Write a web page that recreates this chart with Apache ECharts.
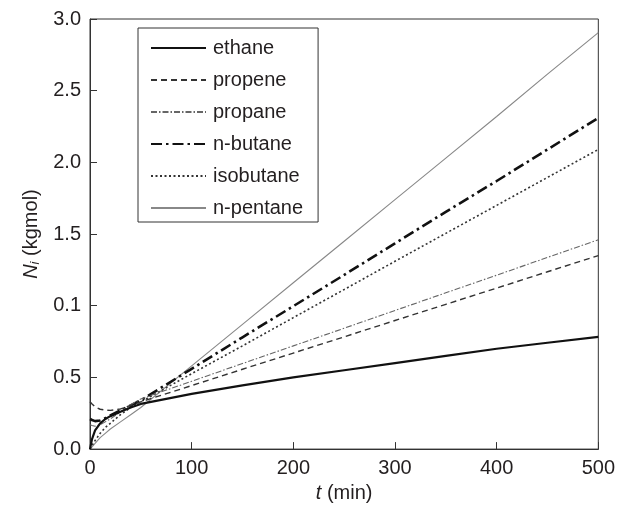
<!DOCTYPE html>
<html>
<head>
<meta charset="utf-8">
<script src="https://cdn.jsdelivr.net/npm/echarts@6/dist/echarts.min.js"></script>
<style>
html,body{margin:0;padding:0;background:#fff;}
#chart{width:618px;height:508px;}
</style>
</head>
<body>
<div id="chart"></div>
<script>
// Time points (min)
var times = [0, 2, 5, 10, 15, 20, 30, 40, 50, 100, 150, 200, 250, 300, 350, 400, 450, 500];
// Series values N_i (kgmol)
var ethane    = [0, 0.07, 0.13, 0.18, 0.21, 0.23, 0.26, 0.29, 0.315, 0.385, 0.445, 0.50, 0.55, 0.60, 0.65, 0.70, 0.742, 0.783];
var propene   = [0.33, 0.315, 0.295, 0.278, 0.272, 0.27, 0.28, 0.305, 0.33, 0.443, 0.557, 0.67, 0.783, 0.897, 1.01, 1.123, 1.237, 1.35];
var propane   = [0.17, 0.165, 0.16, 0.17, 0.19, 0.21, 0.26, 0.31, 0.35, 0.473, 0.597, 0.72, 0.843, 0.967, 1.09, 1.213, 1.337, 1.46];
var nbutane   = [0.21, 0.203, 0.195, 0.20, 0.215, 0.235, 0.27, 0.305, 0.34, 0.56, 0.78, 0.997, 1.215, 1.435, 1.655, 1.87, 2.09, 2.31];
var isobutane = [0, 0.025, 0.06, 0.11, 0.15, 0.18, 0.24, 0.29, 0.33, 0.526, 0.72, 0.917, 1.113, 1.31, 1.505, 1.70, 1.895, 2.09];
var npentane  = [0, 0.015, 0.04, 0.08, 0.11, 0.14, 0.19, 0.24, 0.29, 0.58, 0.87, 1.16, 1.45, 1.74, 2.03, 2.32, 2.615, 2.905];
var seriesNames = ['ethane', 'propene', 'propane', 'n-butane', 'isobutane', 'n-pentane'];
var yTickLabels = ['0.0', '0.5', '0.1', '1.5', '2.0', '2.5', '3.0'];
var xTickLabels = ['0', '100', '200', '300', '400', '500'];

function pairs(vals) { return times.map(function (t, i) { return [t, vals[i]]; }); }

var FONT = '"Liberation Sans", Arial, Helvetica, sans-serif';
var TXT = '#231f20';
var FS = 20;

var styles = [
  { color: '#111', width: 2.2, type: 'solid' },
  { color: '#333', width: 1.4, type: [6, 4] },
  { color: '#666', width: 1.1, type: [6, 2, 1.5, 2] },
  { color: '#111', width: 2.6, type: [11, 4, 2.5, 4] },
  { color: '#333', width: 1.6, type: [2, 2.5] },
  { color: '#888', width: 1.1, type: 'solid' }
];
var datas = [ethane, propene, propane, nbutane, isobutane, npentane];

var series = seriesNames.map(function (name, k) {
  return {
    name: name,
    type: 'line',
    data: pairs(datas[k]),
    showSymbol: false,
    symbol: 'none',
    smooth: false,
    lineStyle: { color: styles[k].color, width: styles[k].width, type: styles[k].type },
    itemStyle: { color: styles[k].color },
    z: 10 - k
  };
});

var chart = echarts.init(document.getElementById('chart'), null, { renderer: 'canvas' });
chart.setOption({
  animation: false,
  backgroundColor: '#fff',
  textStyle: { fontFamily: FONT },
  grid: { left: 90, right: 19, top: 19, bottom: 57, show: true, borderColor: '#333', borderWidth: 1, containLabel: false },
  legend: {
    orient: 'vertical',
    left: 138, top: 28,
    padding: [10, 15, 4, 12],
    itemWidth: 55, itemHeight: 14,
    itemGap: 12,
    borderColor: '#333', borderWidth: 1,
    backgroundColor: '#fff',
    itemStyle: { opacity: 0 },
    textStyle: { fontFamily: FONT, fontSize: FS, color: TXT, padding: [0, 0, 0, 2] },
    data: seriesNames
  },
  xAxis: {
    type: 'value', min: 0, max: 500, interval: 100,
    name: '{it|t} (min)', nameLocation: 'middle', nameGap: 32,
    nameTextStyle: { fontFamily: FONT, fontSize: FS, color: TXT, rich: { it: { fontStyle: 'italic', fontFamily: FONT, fontSize: FS, color: TXT } } },
    axisLine: { show: true, lineStyle: { color: '#333', width: 1 } },
    axisTick: { show: true, inside: true, length: 7, lineStyle: { color: '#333' } },
    splitLine: { show: false },
    axisLabel: { fontFamily: FONT, fontSize: FS, color: TXT, margin: 9,
      formatter: function (v) { return xTickLabels[Math.round(v / 100)]; } }
  },
  yAxis: {
    type: 'value', min: 0, max: 3, interval: 0.5,
    name: '{it|N}{sub|i} (kgmol)', nameLocation: 'middle', nameGap: 42, nameRotate: 90,
    nameTextStyle: { fontFamily: FONT, fontSize: FS, color: TXT,
      rich: { it: { fontStyle: 'italic', fontFamily: FONT, fontSize: FS, color: TXT },
              sub: { fontStyle: 'italic', fontFamily: FONT, fontSize: 13, color: TXT, verticalAlign: 'bottom', padding: [9, 0, 0, 0] } } },
    axisLine: { show: true, lineStyle: { color: '#333', width: 1 } },
    axisTick: { show: true, inside: true, length: 7, lineStyle: { color: '#333' } },
    splitLine: { show: false },
    axisLabel: { fontFamily: FONT, fontSize: FS, color: TXT, margin: 9,
      formatter: function (v) { return yTickLabels[Math.round(v * 2)]; } }
  },
  series: series
});
</script>
</body>
</html>
